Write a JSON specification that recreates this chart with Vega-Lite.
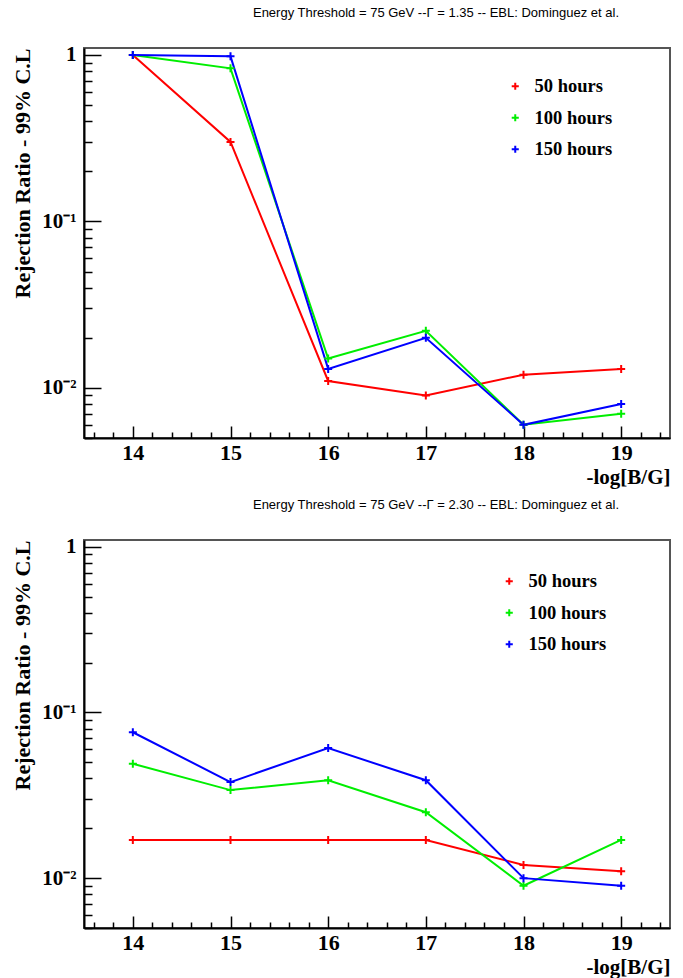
{
  "$schema": "https://vega.github.io/schema/vega-lite/v6.json",
  "background": "white",
  "padding": {"left": 10, "top": 5, "right": 13, "bottom": 0},
  "spacing": 9,
  "config": {
    "view": {"stroke": "#555555", "strokeWidth": 2},
    "title": {"font": "Liberation Sans", "fontSize": 13, "fontWeight": "normal", "color": "black", "anchor": "middle", "dx": 59, "offset": 24},
    "axis": {
      "grid": false,
      "domainColor": "black",
      "domainWidth": 2,
      "tickColor": "black",
      "tickWidth": 1.5,
      "labelFont": "Liberation Serif",
      "labelFontWeight": "bold",
      "labelFontSize": 22,
      "labelColor": "black",
      "labelOverlap": false,
      "labelFlush": false,
      "labelBound": false,
      "titleFont": "Liberation Serif",
      "titleFontWeight": "bold",
      "titleFontSize": 21,
      "titleColor": "black"
    },
    "legend": {
      "orient": "none",
      "title": null,
      "labelFont": "Liberation Serif",
      "labelFontWeight": "bold",
      "labelFontSize": 18.5,
      "labelColor": "black",
      "labelOffset": 10,
      "rowPadding": 12.5,
      "symbolType": "M-1,0H1M0,-1V1",
      "symbolSize": 50,
      "symbolStrokeWidth": 2
    }
  },
  "datasets": {
    "top": [
      {"logBG": 14, "ratio": 1.0, "series": "50 hours"},
      {"logBG": 15, "ratio": 0.30, "series": "50 hours"},
      {"logBG": 16, "ratio": 0.011, "series": "50 hours"},
      {"logBG": 17, "ratio": 0.009, "series": "50 hours"},
      {"logBG": 18, "ratio": 0.012, "series": "50 hours"},
      {"logBG": 19, "ratio": 0.013, "series": "50 hours"},
      {"logBG": 14, "ratio": 1.0, "series": "100 hours"},
      {"logBG": 15, "ratio": 0.83, "series": "100 hours"},
      {"logBG": 16, "ratio": 0.015, "series": "100 hours"},
      {"logBG": 17, "ratio": 0.022, "series": "100 hours"},
      {"logBG": 18, "ratio": 0.006, "series": "100 hours"},
      {"logBG": 19, "ratio": 0.007, "series": "100 hours"},
      {"logBG": 14, "ratio": 1.0, "series": "150 hours"},
      {"logBG": 15, "ratio": 0.98, "series": "150 hours"},
      {"logBG": 16, "ratio": 0.013, "series": "150 hours"},
      {"logBG": 17, "ratio": 0.020, "series": "150 hours"},
      {"logBG": 18, "ratio": 0.006, "series": "150 hours"},
      {"logBG": 19, "ratio": 0.008, "series": "150 hours"}
    ],
    "bottom": [
      {"logBG": 14, "ratio": 0.017, "series": "50 hours"},
      {"logBG": 15, "ratio": 0.017, "series": "50 hours"},
      {"logBG": 16, "ratio": 0.017, "series": "50 hours"},
      {"logBG": 17, "ratio": 0.017, "series": "50 hours"},
      {"logBG": 18, "ratio": 0.012, "series": "50 hours"},
      {"logBG": 19, "ratio": 0.011, "series": "50 hours"},
      {"logBG": 14, "ratio": 0.049, "series": "100 hours"},
      {"logBG": 15, "ratio": 0.034, "series": "100 hours"},
      {"logBG": 16, "ratio": 0.039, "series": "100 hours"},
      {"logBG": 17, "ratio": 0.025, "series": "100 hours"},
      {"logBG": 18, "ratio": 0.009, "series": "100 hours"},
      {"logBG": 19, "ratio": 0.017, "series": "100 hours"},
      {"logBG": 14, "ratio": 0.076, "series": "150 hours"},
      {"logBG": 15, "ratio": 0.038, "series": "150 hours"},
      {"logBG": 16, "ratio": 0.061, "series": "150 hours"},
      {"logBG": 17, "ratio": 0.039, "series": "150 hours"},
      {"logBG": 18, "ratio": 0.010, "series": "150 hours"},
      {"logBG": 19, "ratio": 0.009, "series": "150 hours"}
    ]
  },
  "resolve": {"scale": {"color": "independent"}, "legend": {"color": "independent"}},
  "vconcat": [
    {
      "title": "Energy Threshold = 75 GeV --Γ = 1.35 -- EBL: Dominguez et al.",
      "width": 586,
      "height": 390,
      "data": {"name": "top"},
      "encoding": {
        "x": {
          "field": "logBG", "type": "quantitative",
          "scale": {"domain": [13.5, 19.5], "nice": false, "zero": false},
          "axis": {
            "title": "-log[B/G]", "titleAnchor": "end", "titleAlign": "right", "titlePadding": -3,
            "values": [13.6, 13.8, 14, 14.2, 14.4, 14.6, 14.8, 15, 15.2, 15.4, 15.6, 15.8, 16, 16.2, 16.4, 16.6, 16.8, 17, 17.2, 17.4, 17.6, 17.8, 18, 18.2, 18.4, 18.6, 18.8, 19, 19.2, 19.4],
            "labelExpr": "datum.value == round(datum.value) ? format(datum.value, 'd') : ''",
            "tickSize": {"condition": {"test": "datum.value == round(datum.value)", "value": -12}, "value": -6},
            "labelPadding": 16
          }
        },
        "y": {
          "field": "ratio", "type": "quantitative",
          "scale": {"type": "log", "domain": [0.005, 1.1], "nice": false},
          "axis": {
            "title": "Rejection Ratio - 99% C.L", "titleAnchor": "end", "titlePadding": 7, "titleFontSize": 22,
            "values": [0.005, 0.006, 0.007, 0.008, 0.009, 0.01, 0.02, 0.03, 0.04, 0.05, 0.06, 0.07, 0.08, 0.09, 0.1, 0.2, 0.3, 0.4, 0.5, 0.6, 0.7, 0.8, 0.9, 1],
            "labelExpr": "datum.value == 1 ? '1' : datum.value == 0.1 ? '10⁻¹' : datum.value == 0.01 ? '10⁻²' : ''",
            "labelFontSize": 21,
            "tickSize": {"condition": {"test": "datum.value == 1 || datum.value == 0.1 || datum.value == 0.01", "value": -17}, "value": -8},
            "labelPadding": 25
          }
        },
        "color": {
          "field": "series", "type": "nominal",
          "scale": {"domain": ["50 hours", "100 hours", "150 hours"], "range": ["#ff0000", "#00ee00", "#0000ff"]},
          "legend": {"legendX": 422, "legendY": 29}
        }
      },
      "layer": [
        {"mark": {"type": "line", "strokeWidth": 2}},
        {"mark": {"type": "point", "shape": "M-1,0H1M0,-1V1", "size": 64, "filled": false, "strokeWidth": 2, "opacity": 1}}
      ]
    },
    {
      "title": "Energy Threshold = 75 GeV --Γ = 2.30 -- EBL: Dominguez et al.",
      "width": 586,
      "height": 388,
      "data": {"name": "bottom"},
      "encoding": {
        "x": {
          "field": "logBG", "type": "quantitative",
          "scale": {"domain": [13.5, 19.5], "nice": false, "zero": false},
          "axis": {
            "title": "-log[B/G]", "titleAnchor": "end", "titleAlign": "right", "titlePadding": -3,
            "values": [13.6, 13.8, 14, 14.2, 14.4, 14.6, 14.8, 15, 15.2, 15.4, 15.6, 15.8, 16, 16.2, 16.4, 16.6, 16.8, 17, 17.2, 17.4, 17.6, 17.8, 18, 18.2, 18.4, 18.6, 18.8, 19, 19.2, 19.4],
            "labelExpr": "datum.value == round(datum.value) ? format(datum.value, 'd') : ''",
            "tickSize": {"condition": {"test": "datum.value == round(datum.value)", "value": -12}, "value": -6},
            "labelPadding": 16
          }
        },
        "y": {
          "field": "ratio", "type": "quantitative",
          "scale": {"type": "log", "domain": [0.005, 1.1], "nice": false},
          "axis": {
            "title": "Rejection Ratio - 99% C.L", "titleAnchor": "end", "titlePadding": 7, "titleFontSize": 22,
            "values": [0.005, 0.006, 0.007, 0.008, 0.009, 0.01, 0.02, 0.03, 0.04, 0.05, 0.06, 0.07, 0.08, 0.09, 0.1, 0.2, 0.3, 0.4, 0.5, 0.6, 0.7, 0.8, 0.9, 1],
            "labelExpr": "datum.value == 1 ? '1' : datum.value == 0.1 ? '10⁻¹' : datum.value == 0.01 ? '10⁻²' : ''",
            "labelFontSize": 21,
            "tickSize": {"condition": {"test": "datum.value == 1 || datum.value == 0.1 || datum.value == 0.01", "value": -17}, "value": -8},
            "labelPadding": 25
          }
        },
        "color": {
          "field": "series", "type": "nominal",
          "scale": {"domain": ["50 hours", "100 hours", "150 hours"], "range": ["#ff0000", "#00ee00", "#0000ff"]},
          "legend": {"legendX": 416, "legendY": 32}
        }
      },
      "layer": [
        {"mark": {"type": "line", "strokeWidth": 2}},
        {"mark": {"type": "point", "shape": "M-1,0H1M0,-1V1", "size": 64, "filled": false, "strokeWidth": 2, "opacity": 1}}
      ]
    }
  ]
}
